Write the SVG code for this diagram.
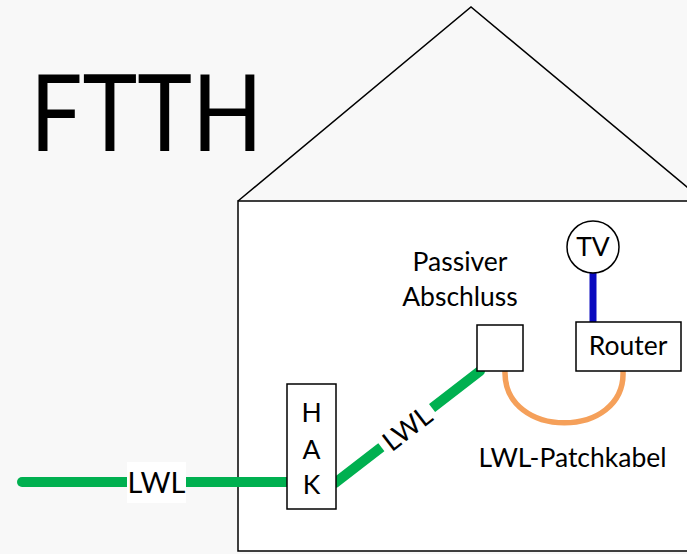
<svg xmlns="http://www.w3.org/2000/svg" width="687" height="554" viewBox="0 0 687 554">
<style>
  .t { font-family: Lato, "Liberation Sans", sans-serif; font-size: 26.5px; fill: #000; text-anchor: middle; }
  .box { fill: #fff; stroke: #000; stroke-width: 1.5; }
  .fiber { fill: none; stroke: #00B050; stroke-width: 10; stroke-linecap: round; }
</style>
<rect x="0" y="0" width="687" height="554" fill="#F8F8F8"/>
<g id="house">
  <polyline points="238,201 471,7 705,202" fill="none" stroke="#000" stroke-width="1.5"/>
  <rect x="238" y="201" width="470" height="350" fill="#fff" stroke="#000" stroke-width="1.5"/>
</g>
<text id="title" transform="translate(30,151) scale(0.875,1)" x="0" y="0" style="font-family: Lato, 'Liberation Sans', sans-serif; font-size: 106px; fill:#000">FTTH</text>
<g id="connectors">
  <line class="fiber" x1="22" y1="482" x2="287" y2="482"/>
  <line class="fiber" x1="335" y1="483" x2="480" y2="371"/>
  <line x1="593" y1="272" x2="593" y2="321" stroke="#0A0ABF" stroke-width="7" stroke-linecap="round"/>
  <path d="M505,371 C503,440 626,440 623,371" fill="none" stroke="#F5A05A" stroke-width="5.5" stroke-linecap="round"/>
  <g id="lwl-out">
    <rect x="127" y="462" width="59" height="41" fill="#fff"/>
    <text class="t" x="156.5" y="493" style="font-size:29px">LWL</text>
  </g>
  <g id="lwl-in" transform="translate(407,428) rotate(-37.7)">
    <rect x="-32" y="-8" width="64" height="16" fill="#fff"/>
    <text class="t" x="0" y="10" style="font-size:27px">LWL</text>
  </g>
  <text id="patch-label" class="t" x="572.5" y="467">LWL-Patchkabel</text>
</g>
<g id="hak">
  <rect class="box" x="287" y="384" width="49" height="125"/>
  <text class="t" x="311.5" y="421.5">H</text>
  <text class="t" x="311.5" y="458.5">A</text>
  <text class="t" x="311.5" y="493.5">K</text>
</g>
<g id="passiv">
  <rect class="box" x="477" y="325" width="46" height="46"/>
  <text class="t" x="460" y="271">Passiver</text>
  <text class="t" x="460" y="306">Abschluss</text>
</g>
<g id="router">
  <rect class="box" x="576" y="322" width="105" height="49"/>
  <text class="t" x="628" y="355">Router</text>
</g>
<g id="tv">
  <circle cx="593" cy="247" r="26" fill="#fff" stroke="#000" stroke-width="1.5"/>
  <text class="t" x="593" y="256">TV</text>
</g>
</svg>
